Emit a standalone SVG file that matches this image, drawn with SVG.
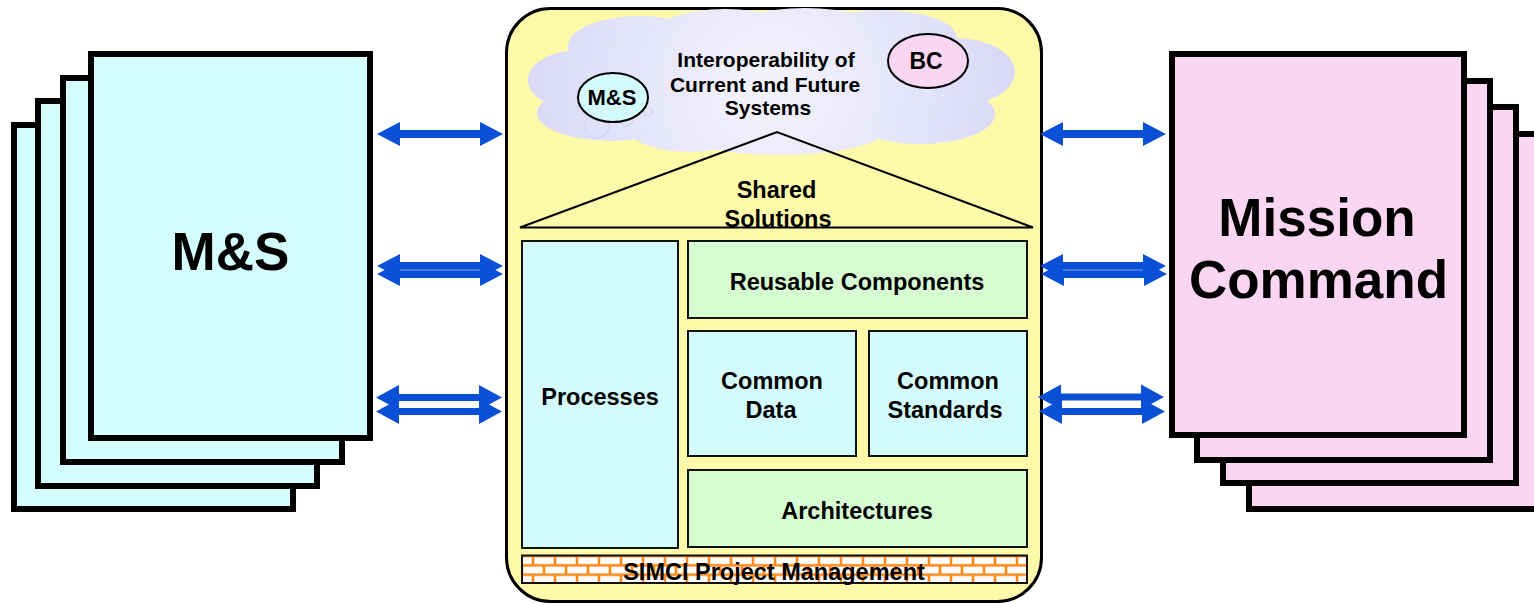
<svg xmlns="http://www.w3.org/2000/svg" width="1534" height="603" viewBox="0 0 1534 603">
  <style>
    .sheet-ms { fill: #D4FDFD; stroke: #000; stroke-width: 6; }
    .sheet-mc { fill: #FAD6F2; stroke: #000; stroke-width: 6; }
    .box-cyan { fill: #D4FBFB; stroke: #111; stroke-width: 2; }
    .box-green { fill: #D6FCD2; stroke: #111; stroke-width: 2; }
    .lbl { font-family: "Liberation Sans", Arial, sans-serif; font-weight: bold; fill: #000; text-anchor: middle; }
    .big { font-size: 53px; }
    .mid { font-size: 23.5px; }
    .cloudtxt { font-size: 21px; }
    .arrow { fill: #0A50D6; }
  </style>
  <defs>
    <radialGradient id="cloudFill" gradientUnits="userSpaceOnUse" cx="770" cy="88" r="260">
      <stop offset="0" stop-color="#F4F4FD"/>
      <stop offset="0.6" stop-color="#E3E3FA"/>
      <stop offset="1" stop-color="#D6D6F6"/>
    </radialGradient>
    <pattern id="bricks" patternUnits="userSpaceOnUse" x="522" y="556" width="22" height="18.66">
      <rect width="22" height="18.66" fill="#FFFFFF"/>
      <g stroke="#FF8A1C" stroke-width="2.6" fill="none">
        <line x1="0" y1="0" x2="22" y2="0"/>
        <line x1="0" y1="9.33" x2="22" y2="9.33"/>
        <line x1="0" y1="18.66" x2="22" y2="18.66"/>
        <line x1="11" y1="0" x2="11" y2="9.33"/>
        <line x1="0" y1="9.33" x2="0" y2="18.66"/>
        <line x1="22" y1="9.33" x2="22" y2="18.66"/>
      </g>
    </pattern>
    <!-- double-headed block arrows, drawn from x=0 to x=126 around y=0 -->
    <path id="arrowWide" d="M0,0 L23,-12 L23,-4 L103,-4 L103,-12 L126,0 L103,12 L103,4 L23,4 L23,12 Z"/>
    <path id="arrowSlim" d="M0,0 L23,-12.5 L23,-3.5 L103,-3.5 L103,-12.5 L126,0 L103,12.5 L103,3.5 L23,3.5 L23,12.5 Z"/>
  </defs>

  <rect width="1534" height="603" fill="#FFFFFF"/>

  <!-- M&S stack of sheets -->
  <g id="ms-stack">
    <rect class="sheet-ms" x="14" y="125" width="279" height="384"/>
    <rect class="sheet-ms" x="38" y="101" width="279" height="385"/>
    <rect class="sheet-ms" x="63" y="78" width="279" height="384"/>
    <rect class="sheet-ms" x="91" y="54" width="279" height="384"/>
    <text class="lbl big" x="230.5" y="270">M&amp;S</text>
  </g>

  <!-- Mission Command stack of sheets -->
  <g id="mc-stack">
    <rect class="sheet-mc" x="1249" y="134" width="293" height="375"/>
    <rect class="sheet-mc" x="1223" y="107" width="293" height="376"/>
    <rect class="sheet-mc" x="1197" y="81" width="293" height="379"/>
    <rect class="sheet-mc" x="1172" y="54" width="292" height="381"/>
    <text class="lbl big" x="1317" y="236">Mission</text>
    <text class="lbl big" x="1318.5" y="298">Command</text>
  </g>

  <!-- central panel -->
  <g id="center-panel">
    <rect x="506.5" y="8.5" width="535" height="593" rx="44" fill="#FFFAAA" stroke="#000" stroke-width="3"/>
  </g>

  <!-- interoperability cloud -->
  <g id="cloud">
    <g fill="url(#cloudFill)">
      <ellipse cx="770" cy="85" rx="215" ry="55"/>
      <ellipse cx="580" cy="80" rx="52" ry="30"/>
      <ellipse cx="612" cy="113" rx="75" ry="28"/>
      <ellipse cx="640" cy="46" rx="72" ry="30"/>
      <ellipse cx="725" cy="35" rx="72" ry="26"/>
      <ellipse cx="805" cy="32" rx="75" ry="24"/>
      <ellipse cx="882" cy="38" rx="75" ry="28"/>
      <ellipse cx="955" cy="72" rx="60" ry="34"/>
      <ellipse cx="920" cy="114" rx="75" ry="30"/>
      <ellipse cx="780" cy="125" rx="112" ry="30"/>
      <ellipse cx="690" cy="130" rx="60" ry="22"/>
    </g>
    <g fill="none" stroke="#D0D0F2" stroke-width="1">
      <circle cx="597" cy="126" r="12"/>
      <circle cx="627" cy="120" r="6"/>
      <circle cx="648" cy="112" r="4"/>
    </g>
    <text class="lbl cloudtxt" x="766" y="67">Interoperability of</text>
    <text class="lbl cloudtxt" x="765" y="92">Current and Future</text>
    <text class="lbl cloudtxt" x="768" y="115">Systems</text>
  </g>

  <g id="cloud-ms">
    <ellipse cx="613" cy="97.5" rx="35" ry="24.5" fill="#D4FBFB" stroke="#000" stroke-width="2"/>
    <text class="lbl" font-size="22" x="612" y="105">M&amp;S</text>
  </g>

  <g id="cloud-bc">
    <ellipse cx="928" cy="61" rx="40" ry="27" fill="#FAD6F2" stroke="#000" stroke-width="2"/>
    <text class="lbl" font-size="23" x="926" y="69">BC</text>
  </g>

  <!-- shared solutions roof -->
  <g id="shared-solutions">
    <text class="lbl mid" x="776.5" y="198">Shared</text>
    <text class="lbl mid" x="778" y="227">Solutions</text>
    <polygon points="520,227.5 777,132 1033,227.5" fill="none" stroke="#000" stroke-width="2"/>
  </g>

  <g id="processes">
    <rect class="box-cyan" x="522" y="241" width="156" height="307"/>
    <text class="lbl mid" x="600" y="405">Processes</text>
  </g>

  <g id="reusable-components">
    <rect class="box-green" x="688" y="241" width="339" height="77"/>
    <text class="lbl mid" x="857" y="290">Reusable Components</text>
  </g>

  <g id="common-data">
    <rect class="box-cyan" x="688" y="331" width="168" height="125"/>
    <text class="lbl mid" x="772" y="389">Common</text>
    <text class="lbl mid" x="771" y="418">Data</text>
  </g>

  <g id="common-standards">
    <rect class="box-cyan" x="869" y="331" width="158" height="125"/>
    <text class="lbl mid" x="948" y="389">Common</text>
    <text class="lbl mid" x="945" y="418">Standards</text>
  </g>

  <g id="architectures">
    <rect class="box-green" x="688" y="470" width="339" height="77"/>
    <text class="lbl mid" x="857" y="519">Architectures</text>
  </g>

  <g id="simci-pm">
    <rect x="522" y="555.5" width="505" height="27.5" fill="url(#bricks)" stroke="#111" stroke-width="2"/>
    <text class="lbl mid" x="774" y="580">SIMCI Project Management</text>
  </g>

  <!-- connectors -->
  <g id="connectors" class="arrow">
    <use href="#arrowWide" x="377" y="134"/>
    <use href="#arrowWide" x="377" y="266"/>
    <use href="#arrowWide" x="377" y="274"/>
    <line x1="400" y1="270" x2="480" y2="270" stroke="#7FA3EE" stroke-width="1"/>
    <use href="#arrowSlim" x="376" y="397.5"/>
    <use href="#arrowSlim" x="376" y="411.5"/>

    <use href="#arrowWide" x="1040" y="134"/>
    <use href="#arrowWide" x="1040" y="266"/>
    <use href="#arrowWide" x="1041" y="274"/>
    <line x1="1063" y1="270" x2="1143" y2="270" stroke="#7FA3EE" stroke-width="1"/>
    <use href="#arrowSlim" x="1038" y="397"/>
    <use href="#arrowSlim" x="1039" y="411.5"/>
  </g>
</svg>
